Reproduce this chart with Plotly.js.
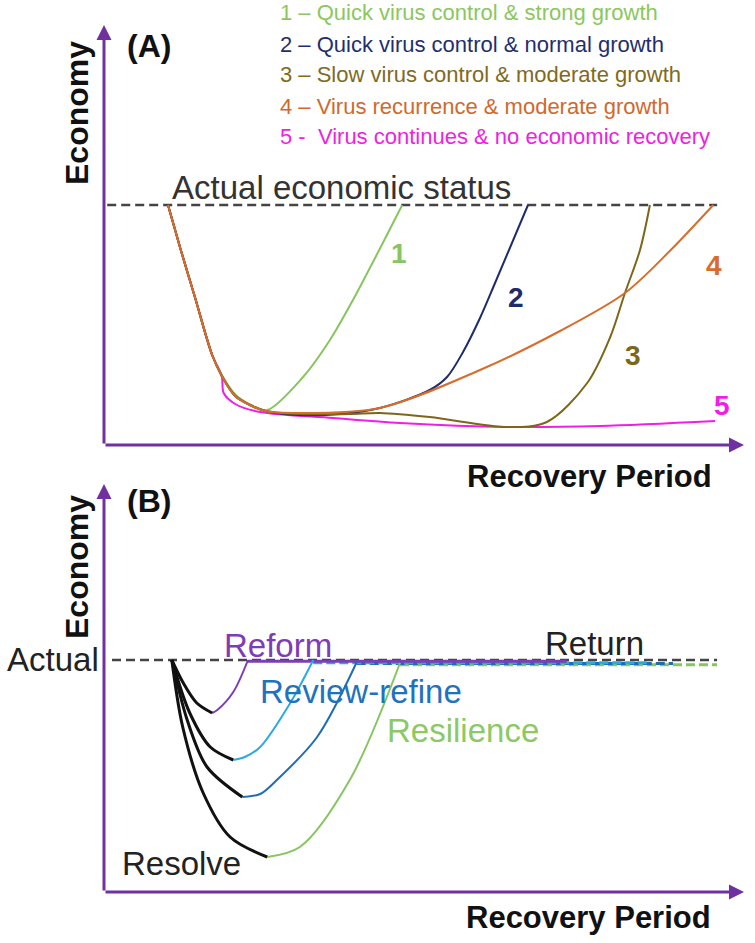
<!DOCTYPE html>
<html>
<head>
<meta charset="utf-8">
<script src="https://cdn.plot.ly/plotly-3.0.1.min.js"></script>
<style>
  html, body { margin: 0; padding: 0; background: #fff; }
  #chart { width: 755px; height: 943px; }
</style>
</head>
<body>
<div id="chart"></div>
<script>
// ---- Panel A: five recovery scenarios (x = recovery period, y = economy) ----
const actualA = 60;
const actualAX = [0.5, 95.8];

const s1X = [10, 12.0, 14.2, 16.9, 18.6, 20.6, 23.0, 25.5, 31.1, 35.3, 38.9, 46.6];
const s1Y = [60, 48.75, 37, 22.5, 17, 12.5, 10, 8.75, 17, 26.25, 36.25, 60];

const s2X = [10, 12.0, 14.2, 16.9, 18.4, 20.5, 22.8, 25.2, 30.6, 36.9, 43.1, 50.9, 53.6, 56.1, 58.75, 61.1, 66.25];
const s2Y = [60, 48.75, 37, 22.5, 17.25, 12.25, 10, 8.5, 7.5, 7.75, 9.25, 13.75, 17, 23.25, 31.75, 40.5, 60];

const s3X = [10, 12.0, 14.2, 16.9, 18.4, 20.5, 22.8, 25.2, 30.6, 38.4, 43.1, 50.9, 63, 69.2, 75.5, 79.1, 81.4, 83.75, 85.3];
const s3Y = [60, 48.75, 37, 22.5, 17.25, 12.25, 10, 8.5, 7.75, 7.75, 8, 7, 4.5, 5.75, 15.5, 27, 38, 48.75, 60];

const s4X = [10, 12.0, 14.2, 16.9, 18.4, 20.5, 22.8, 25.2, 30.6, 43.1, 58.75, 71.25, 81.4, 88.4, 95.2];
const s4Y = [60, 48.75, 37, 22.5, 17.25, 12.25, 10, 8.5, 8, 9.25, 18.75, 28.5, 38, 48.5, 60];

const s5X = [10, 12.0, 14.2, 16.9, 18.4, 18.7, 20.5, 24.4, 35.8, 46.25, 63, 77.5, 95.5];
const s5Y = [60, 48.75, 37, 22.5, 17.25, 13, 10.25, 8.25, 6.75, 5.5, 4.5, 4.75, 6];

const legendTexts = [
  "1 \u2013 Quick virus control & strong growth",
  "2 \u2013 Quick virus control & normal growth",
  "3 \u2013 Slow virus control & moderate growth",
  "4 \u2013 Virus recurrence & moderate growth",
  "5 -\u00a0 Virus continues & no economic recovery"
];
const curveNums = ["1", "2", "3", "4", "5"];
const numX = [46.1, 64.4, 82.7, 95.3, 96.6];
const numY = [48, 37, 22.5, 45, 10];

// ---- Panel B: the R's of recovery ----
const actualB = 58;
const actualBX = [1.25, 95.8];

const reformDownX = [10.6, 12.3, 14.5, 16.9];
const reformDownY = [58, 52.5, 47.25, 44.75];
const reformUpX = [16.9, 17.7, 20.2, 22.5];
const reformUpY = [44.75, 45.5, 50, 58];

const reviewDownX = [10.6, 13.4, 16.6, 20.2];
const reviewDownY = [58, 44.75, 36.25, 33];
const reviewUpX = [20.2, 22.0, 24.4, 29.1, 32.7];
const reviewUpY = [33, 33.75, 36.25, 47.25, 58];

const refineDownX = [10.6, 13, 16.1, 21.6];
const refineDownY = [58, 43, 31.25, 23.75];
const refineUpX = [21.6, 24.4, 27, 33.3, 39.5];
const refineUpY = [23.75, 24.5, 28, 38.75, 57.5];

const resilDownX = [10.6, 12.3, 15.5, 19.7, 25.5];
const resilDownY = [58, 41.25, 24.75, 13.75, 8.75];
const resilUpX = [25.5, 30.6, 38.4, 46.25];
const resilUpY = [8.75, 11.25, 28, 57.25];

// flat "return" tails after each recovery
const tailStartX = [22.5, 32.7, 39.5, 46.25];
const tailEndX = [72.3, 84.8, 88.9, 95.8];
const tailY = [57.7, 57.3, 57.1, 56.8];

const labelsB = ["Reform", "Review-refine", "Resilience", "Return", "Resolve"];
const labelBX = [18.4, 24.1, 43.9, 68.6, 2.5];
const labelBY = [61.6, 50.1, 40.4, 62.1, 7.1];

// ---- styles ----
const FONT = "Liberation Sans, Arial, sans-serif";
const AXIS_PURPLE = "#7030A0";
const colA = ["#86C560", "#1E2C6B", "#7C6718", "#D86C2C", "#F01FE6"];
const legendCol = ["#8BC75E", "#1F2F6E", "#7F6A1E", "#D0692D", "#EE22E0"];
const colB = ["#7D3DB5", "#2AAAE2", "#1E6DB4", "#86C560"];
const labelBCol = ["#7D3DB5", "#1E73BE", "#8CC965", "#222222", "#222222"];

function line(x, y, color, width, xa, ya, extra) {
  return Object.assign({
    x: x, y: y, mode: "lines", xaxis: xa, yaxis: ya, hoverinfo: "skip",
    line: { color: color, width: width, shape: "spline", smoothing: 0.9 }
  }, extra || {});
}

const traces = [
  line(actualAX, [actualA, actualA], "#444", 2.5, "x", "y", { line: { color: "#444", width: 2.5, dash: "9px,5px" } }),
  line(s5X, s5Y, colA[4], 2, "x", "y"),
  line(s1X, s1Y, colA[0], 2, "x", "y"),
  line(s2X, s2Y, colA[1], 2, "x", "y"),
  line(s3X, s3Y, colA[2], 2, "x", "y"),
  line(s4X, s4Y, colA[3], 2, "x", "y"),

  line(actualBX, [actualB, actualB], "#444", 2.5, "x2", "y2", { line: { color: "#444", width: 2.5, dash: "9px,5px" } })
];

// tails drawn back to front: green, dark blue, light blue, purple
[3, 2, 1, 0].forEach(i => {
  traces.push(line([tailStartX[i], tailEndX[i]], [tailY[i], tailY[i]], colB[i], 3, "x2", "y2",
    { line: { color: colB[i], width: 3, dash: i === 0 ? "solid" : "9px,4px" } }));
});

[[reformUpX, reformUpY, 0], [reviewUpX, reviewUpY, 1], [refineUpX, refineUpY, 2], [resilUpX, resilUpY, 3]]
  .forEach(s => traces.push(line(s[0], s[1], colB[s[2]], 2, "x2", "y2")));
[[reformDownX, reformDownY], [reviewDownX, reviewDownY], [refineDownX, refineDownY], [resilDownX, resilDownY]]
  .forEach(s => traces.push(line(s[0], s[1], "#111", 3, "x2", "y2")));

const annotations = [];

// axis arrows
[["x", "y", 105], ["x2", "y2", 102]].forEach(a => {
  annotations.push({ x: 0, y: a[2], ax: 0, ay: 0, xref: a[0], yref: a[1], axref: a[0], ayref: a[1],
    showarrow: true, arrowhead: 2, arrowsize: 1, arrowwidth: 3, arrowcolor: AXIS_PURPLE, text: "" });
  annotations.push({ x: 100, y: 0, ax: 0, ay: 0, xref: a[0], yref: a[1], axref: a[0], ayref: a[1],
    showarrow: true, arrowhead: 2, arrowsize: 1, arrowwidth: 3, arrowcolor: AXIS_PURPLE, text: "" });
});

// legend-like lines at top
const legendYpx = [12.5, 44, 75, 107, 137];
legendTexts.forEach((t, i) => {
  annotations.push({ xref: "paper", yref: "paper", x: 278 / 755, y: 1 - legendYpx[i] / 943,
    xanchor: "left", yanchor: "middle", showarrow: false, text: t,
    font: { family: FONT, size: 22, color: legendCol[i] } });
});

// curve numbers
curveNums.forEach((t, i) => {
  annotations.push({ xref: "x", yref: "y", x: numX[i], y: numY[i], xanchor: "center", yanchor: "middle",
    showarrow: false, text: "<b>" + t + "</b>", font: { family: FONT, size: 28, color: colA[i] } });
});

annotations.push({ xref: "x", yref: "y", x: 10.3, y: 64.4, xanchor: "left", yanchor: "middle", showarrow: false,
  text: "Actual economic status", font: { family: FONT, size: 33, color: "#333" } });

labelsB.forEach((t, i) => {
  annotations.push({ xref: "x2", yref: "y2", x: labelBX[i], y: labelBY[i], xanchor: "left", yanchor: "middle",
    showarrow: false, text: t, font: { family: FONT, size: 33, color: labelBCol[i] } });
});
annotations.push({ xref: "paper", yref: "paper", x: 5 / 755, y: 1 - 659.5 / 943, xanchor: "left", yanchor: "middle",
  showarrow: false, text: "Actual", font: { family: FONT, size: 33, color: "#222" } });

// panel titles and axis names
[["(A)", 46], ["(B)", 501]].forEach(p => {
  annotations.push({ xref: "paper", yref: "paper", x: 125 / 755, y: 1 - p[1] / 943, xanchor: "left", yanchor: "middle",
    showarrow: false, text: "<b>" + p[0] + "</b>", font: { family: FONT, size: 32, color: "#111" } });
});
[113, 567].forEach(cy => {
  annotations.push({ xref: "paper", yref: "paper", x: 77 / 755, y: 1 - cy / 943, xanchor: "center", yanchor: "middle",
    showarrow: false, textangle: -90, text: "<b>Economy</b>", font: { family: FONT, size: 32, color: "#111" } });
});
[[589, 476], [588, 917]].forEach(c => {
  annotations.push({ xref: "paper", yref: "paper", x: c[0] / 755, y: 1 - c[1] / 943, xanchor: "center", yanchor: "middle",
    showarrow: false, text: "<b>Recovery Period</b>", font: { family: FONT, size: 31, color: "#111" } });
});

const hidden = { showgrid: false, zeroline: false, showticklabels: false, showline: false, ticks: "", fixedrange: true };

const layout = {
  width: 755, height: 943,
  margin: { l: 0, r: 0, t: 0, b: 0 },
  paper_bgcolor: "#fff", plot_bgcolor: "#fff",
  showlegend: false,
  xaxis: Object.assign({ domain: [104 / 755, 744 / 755], range: [0, 100] }, hidden),
  yaxis: Object.assign({ domain: [1 - 445 / 943, 1 - 25 / 943], range: [0, 105] }, hidden),
  xaxis2: Object.assign({ domain: [104 / 755, 744 / 755], range: [0, 100], anchor: "y2" }, hidden),
  yaxis2: Object.assign({ domain: [1 - 892 / 943, 1 - 484 / 943], range: [0, 102], anchor: "x2" }, hidden),
  annotations: annotations
};

Plotly.newPlot("chart", traces, layout, { displayModeBar: false, staticPlot: true });
</script>
</body>
</html>
